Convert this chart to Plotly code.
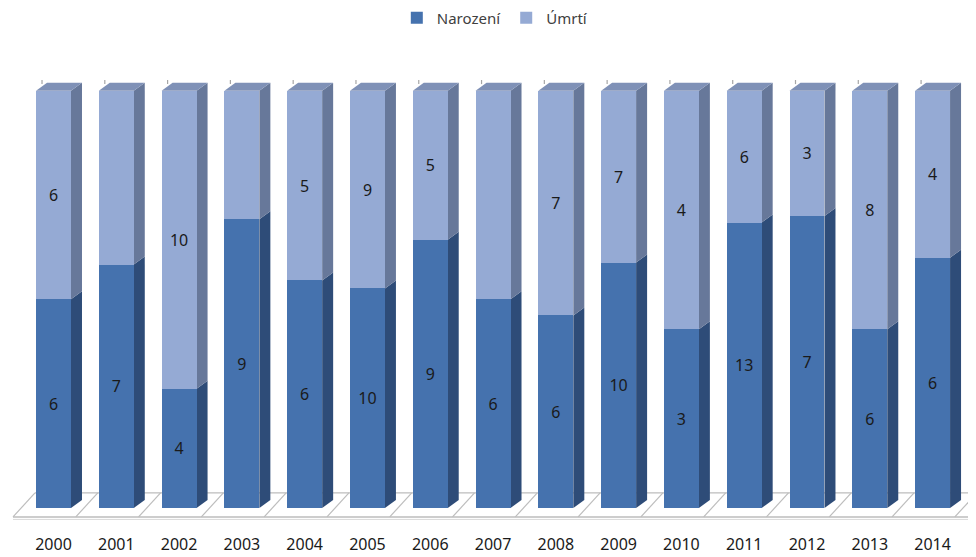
import plotly.graph_objects as go

years = ["2000", "2001", "2002", "2003", "2004", "2005", "2006", "2007",
         "2008", "2009", "2010", "2011", "2012", "2013", "2014"]
narozeni = [6, 7, 4, 9, 6, 10, 9, 6, 6, 10, 3, 13, 7, 6, 6]
umrti = [6, 5, 10, 4, 5, 9, 5, 6, 7, 7, 4, 6, 3, 8, 4]
umrti_label_shown = [True, False, True, False, True, True, True, False,
                     True, True, True, True, True, True, True]

DARK_FRONT = "#4572AE"
DARK_SIDE = "#2E4C78"
LIGHT_FRONT = "#95AAD4"
LIGHT_SIDE = "#67789A"
LIGHT_TOP = "#7F91B7"
FLOOR = "#BDBDBD"
FONT = "Noto Sans"

W = 0.557      # bar width in category units
DX = 0.175     # depth offset x (category units)
DY = 1.92      # depth offset y (percent units)

xs = list(range(len(years)))
tot = [a + b for a, b in zip(narozeni, umrti)]
p_n = [100 * a / t for a, t in zip(narozeni, tot)]

fig = go.Figure()
fig.add_trace(go.Bar(
    x=xs, y=narozeni, name="Narození", marker=dict(color=DARK_FRONT, line=dict(width=0)),
    width=W, text=[str(v) for v in narozeni], textposition="inside",
    insidetextanchor="middle", textangle=0,
    insidetextfont=dict(color="#1a1a1a", size=16, family=FONT),
    hoverinfo="skip"))
fig.add_trace(go.Bar(
    x=xs, y=umrti, name="Úmrtí", marker=dict(color=LIGHT_FRONT, line=dict(width=0)),
    width=W, text=[str(v) if s else "" for v, s in zip(umrti, umrti_label_shown)],
    textposition="inside", insidetextanchor="middle", textangle=0,
    insidetextfont=dict(color="#1a1a1a", size=16, family=FONT),
    hoverinfo="skip"))

shapes = []
# floor
y_front, y_back = -2.16, 3.6
shapes.append(dict(type="line", xref="x", yref="y", x0=-0.645, x1=14.58, y0=y_front, y1=y_front,
                   line=dict(color=FLOOR, width=1.5), layer="below"))
shapes.append(dict(type="line", xref="x", yref="y", x0=-0.645, x1=14.58, y0=y_front - 0.6,
                   y1=y_front - 0.6, line=dict(color="#D9D9D9", width=1), layer="below"))
shapes.append(dict(type="line", xref="x", yref="y", x0=-0.295, x1=14.612, y0=y_back, y1=y_back,
                   line=dict(color=FLOOR, width=1.2), layer="below"))
for k in range(len(years) + 1):
    xb = -0.645 + k
    shapes.append(dict(type="line", xref="x", yref="y", x0=xb, x1=xb + 0.35, y0=y_front, y1=y_back,
                       line=dict(color=FLOOR, width=1.2), layer="below"))

for i in xs:
    xl = i - W / 2
    xr = i + W / 2
    # side faces
    for yb, yt, col in [(0, p_n[i], DARK_SIDE), (p_n[i], 100, LIGHT_SIDE)]:
        path = (f"M {xr},{yb} L {xr + DX},{yb + DY} L {xr + DX},{yt + DY} "
                f"L {xr},{yt} Z")
        shapes.append(dict(type="path", xref="x", yref="y", path=path,
                           fillcolor=col, line=dict(width=0), layer="below"))
    # top face
    path = f"M {xl},100 L {xl + DX},{100 + DY} L {xr + DX},{100 + DY} L {xr},100 Z"
    shapes.append(dict(type="path", xref="x", yref="y", path=path,
                       fillcolor=LIGHT_TOP, line=dict(width=0), layer="below"))
    # back wall tick
    tx = i - 0.183
    shapes.append(dict(type="line", xref="x", yref="y", x0=tx, x1=tx,
                       y0=100 + DY - 0.3, y1=100 + DY + 2.2,
                       line=dict(color="#A6A6A6", width=1.2), layer="below"))

fig.update_layout(
    barmode="stack", barnorm="percent",
    width=976, height=557,
    margin=dict(l=2, r=13, t=72, b=45),
    paper_bgcolor="white", plot_bgcolor="white",
    shapes=shapes,
    showlegend=True,
    legend=dict(orientation="h", x=0.505, xanchor="center", y=0.982, yref="container",
                yanchor="middle", font=dict(size=15, color="#404040", family=FONT),
                itemwidth=30, traceorder="normal"),
    xaxis=dict(range=[-0.693, 14.612], tickmode="array", tickvals=xs, ticktext=years,
               showgrid=False, zeroline=False, showline=False, ticks="",
               tickfont=dict(size=16, color="#1a1a1a", family=FONT),
               ticklabelstandoff=13),
    yaxis=dict(range=[-2.9, 102.6], visible=False, showgrid=False, zeroline=False),
    bargap=0.3,
)

fig.write_html("out.html")
